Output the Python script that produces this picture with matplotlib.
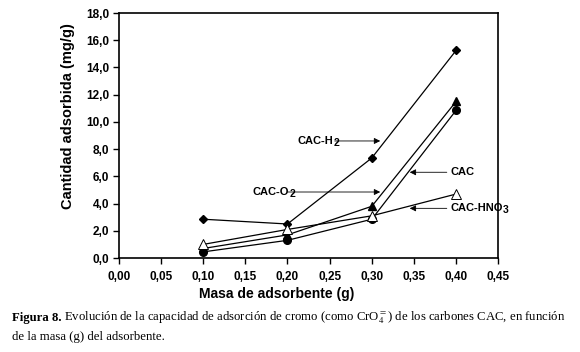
import numpy as np
import matplotlib
matplotlib.use("Agg")
import matplotlib.pyplot as plt
from matplotlib.ticker import FuncFormatter

plt.rcParams['font.family'] = ['Liberation Sans', 'DejaVu Sans']

masa = [0.10, 0.20, 0.30, 0.40]
cac_h2 = [2.85, 2.5, 7.35, 15.25]
cac_o2 = [0.7, 1.7, 3.8, 11.5]
cac = [0.45, 1.3, 2.85, 10.85]
cac_hno3 = [1.0, 2.1, 3.1, 4.7]

fig = plt.figure(figsize=(5.8, 3.52), dpi=100)
ax = fig.add_axes([0.205, 0.267, 0.654, 0.696])

lw = 0.9
ax.plot(masa, cac_h2, color='black', lw=lw, marker='D', ms=4.5, mfc='black', mec='black')
ax.plot(masa, cac_o2, color='black', lw=lw, marker='^', ms=6, mfc='black', mec='black')
ax.plot(masa, cac, color='black', lw=lw, marker='o', ms=5.5, mfc='black', mec='black')
ax.plot(masa, cac_hno3, color='black', lw=lw, marker='^', ms=7, mfc='white', mec='black', mew=0.7)

ax.set_xlim(0, 0.45)
ax.set_ylim(0, 18)
ax.set_xticks(np.arange(0, 0.451, 0.05))
ax.set_yticks(np.arange(0, 18.1, 2))
ax.xaxis.set_major_formatter(FuncFormatter(lambda v, p: ('%.2f' % v).replace('.', ',')))
ax.yaxis.set_major_formatter(FuncFormatter(lambda v, p: ('%.1f' % v).replace('.', ',')))
ax.tick_params(direction='out', length=4, width=1, labelsize=8.5, pad=3)
ax.tick_params(axis='x', pad=5)
for lab in ax.get_xticklabels() + ax.get_yticklabels():
    lab.set_fontweight('bold')
for s in ax.spines.values():
    s.set_linewidth(1.2)

ax.set_xlabel('Masa de adsorbente (g)', fontsize=10, fontweight='bold', va='center')
ax.set_ylabel('Cantidad adsorbida (mg/g)', fontsize=10.5, fontweight='bold')
ax.xaxis.set_label_coords(0.417, -0.147)
ax.yaxis.set_label_coords(-0.116, 0.58)

fig.canvas.draw()
r = fig.canvas.get_renderer()


def etiqueta(x, y, base, sub=None):
    t = ax.text(x, y, base, fontsize=8, fontweight='bold', va='center')
    if sub:
        bb = t.get_window_extent(r)
        ax.annotate(sub, xy=(bb.x1, bb.y0 + bb.height / 2), xycoords='figure pixels',
                    xytext=(0.4, -1.5), textcoords='offset points',
                    fontsize=7.5, fontweight='bold', va='center', ha='left')


arrow = dict(arrowstyle='-|>', color='black', lw=0.6, mutation_scale=9, shrinkA=0, shrinkB=0)
etiqueta(0.212, 8.6, 'CAC-H', '2')
ax.annotate('', xy=(0.31, 8.6), xytext=(0.256, 8.6), arrowprops=arrow)
etiqueta(0.158, 4.85, 'CAC-O', '2')
ax.annotate('', xy=(0.31, 4.85), xytext=(0.2, 4.85), arrowprops=arrow)
etiqueta(0.393, 6.3, 'CAC')
ax.annotate('', xy=(0.345, 6.3), xytext=(0.389, 6.3), arrowprops=arrow)
etiqueta(0.393, 3.65, 'CAC-HNO', '3')
ax.annotate('', xy=(0.345, 3.65), xytext=(0.389, 3.65), arrowprops=arrow)

# pie de figura
cap_size = 10
t1 = fig.text(12 / 580, 1 - 318 / 352, 'Figura 8.', fontsize=cap_size, fontweight='bold',
              family='Liberation Serif', va='center')
bb = t1.get_window_extent(r)
t2 = fig.text((bb.x1 + 3) / 580, 1 - 318 / 352,
              r'Evolución de la capacidad de adsorción de cromo (como CrO$_4^{=}$) de los carbones CAC, en función',
              fontsize=cap_size, family='Liberation Serif', va='center', math_fontfamily='stix')
# ajustar tamaño para que la linea termine en x=565
w = t2.get_window_extent(r).width
escala = (565 - bb.x1 - 3) / w
for _ in range(3):
    cap_size = cap_size * escala
    t1.set_fontsize(cap_size)
    t2.set_fontsize(cap_size)
    bb = t1.get_window_extent(r)
    t2.set_x((bb.x1 + 3) / 580)
    w = t2.get_window_extent(r).width
    escala = (565 - bb.x1 - 3) / w
fig.text(12 / 580, 1 - 337 / 352, 'de la masa (g) del adsorbente.', fontsize=cap_size,
         family='Liberation Serif', va='center')

fig.savefig('out.png', dpi=100)
